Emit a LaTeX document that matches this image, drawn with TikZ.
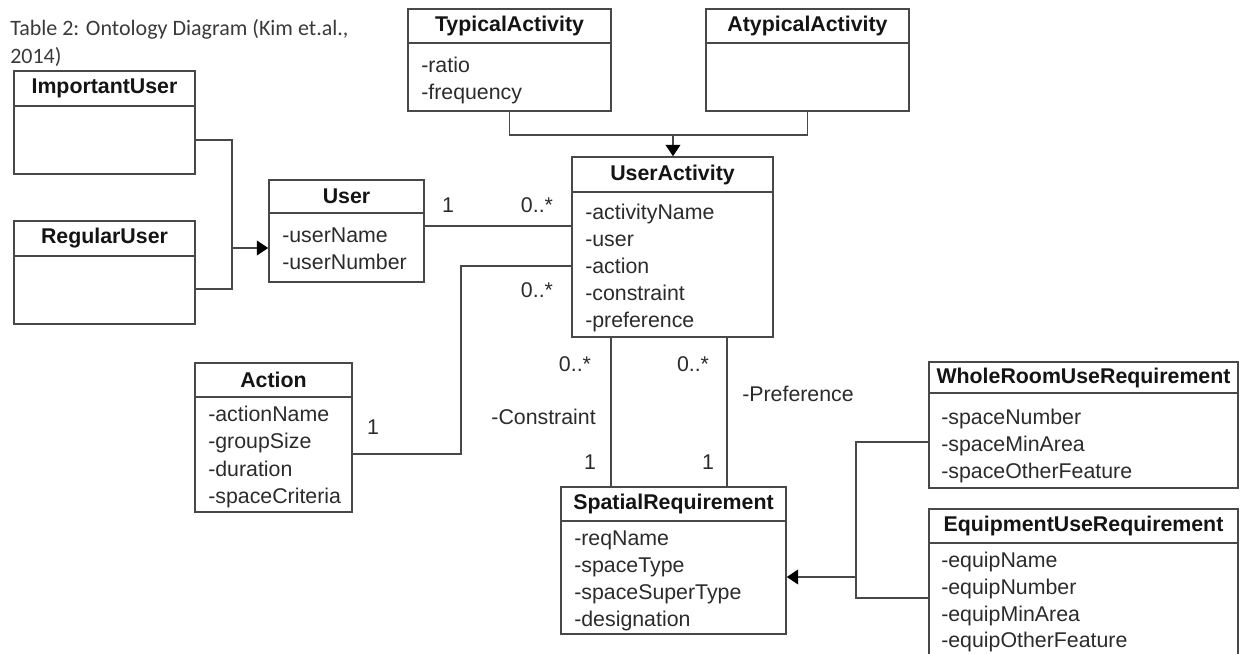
\documentclass[tikz,border=0pt]{standalone}
\usepackage{fontspec}
\setmainfont{Liberation Sans}
\newfontfamily\titlefont{Carlito}
\usetikzlibrary{arrows.meta,fit}
\definecolor{linec}{HTML}{484848}
\definecolor{namec}{HTML}{141414}
\definecolor{attrc}{HTML}{2B2B2B}
\definecolor{titlec}{HTML}{3A3A3A}
\tikzset{
  clsbox/.style={draw=linec, line width=1.15pt, inner sep=0pt},
  divline/.style={draw=linec, line width=1.15pt},
  clsname/.style={font=\fontsize{16}{19}\selectfont\bfseries, text=namec, inner sep=0pt},
  attr/.style={font=\fontsize{16}{19}\selectfont, text=attrc, anchor=west, inner sep=0pt, text height=11.5pt, text depth=0pt},
  mult/.style={font=\fontsize{16}{19}\selectfont, text=attrc, inner sep=0pt, text height=11.5pt, text depth=0pt},
  conn/.style={draw=linec, line width=1.15pt},
  gen/.style={conn, -{Triangle[length=8.5pt,width=11pt,color=black]}},
  titletext/.style={font=\titlefont\fontsize{16.5}{21}\selectfont, text=titlec, inner sep=0pt, anchor=base west},
}
% #1 name, #2 x1, #3 y1, #4 x2, #5 y2, #6 divider y, #7 title
\newcommand{\umlclass}[7]{%
  \node[clsbox, fit={(#2,#3) (#4,#5)}] (#1) {};
  \draw[divline] (#2,#6) -- (#4,#6);
  \node[clsname] (#1-t) at ({(#2+#4)/2},{(#3+#6)/2}) {#7};
}
% #1 name, #2 x, #3 first y, #4 step, #5 list
\newcommand{\umlattrs}[5]{%
  \foreach \a [count=\i from 0] in {#5}
    \node[attr] (#1-a\i) at (#2,{#3+\i*#4}) {\a};
}
\begin{document}
\begin{tikzpicture}[x=0.75pt,y=-0.75pt]
\useasboundingbox (0,0) rectangle (1241,653);
\clip (0,0) rectangle (1241,653);

% caption
\node[titletext] (cap1) at (10,35) {Table 2: Ontology Diagram (Kim et.al.,};
\node[titletext] (cap2) at (10,63) {2014)};

% classes
\umlclass{imp}{14}{71}{195}{174}{106}{ImportantUser}
\umlclass{reg}{14}{221}{195}{324}{256}{RegularUser}
\umlclass{user}{269}{180}{424}{282}{213}{User}
\umlattrs{user}{282}{235}{27}{-userName,-userNumber}
\umlclass{typ}{408}{9}{611}{111}{43}{TypicalActivity}
\umlattrs{typ}{421}{65}{27}{-ratio,-frequency}
\umlclass{atyp}{706}{9}{909}{111}{43}{AtypicalActivity}
\umlclass{ua}{572}{157}{773}{337}{192}{UserActivity}
\umlattrs{ua}{585}{212}{27}{-activityName,-user,-action,-constraint,-preference}
\umlclass{act}{195}{363}{352}{512}{397}{Action}
\umlattrs{act}{208}{414}{27.3}{-actionName,-groupSize,-duration,-spaceCriteria}
\umlclass{sp}{561}{487}{786}{634}{521}{SpatialRequirement}
\umlattrs{sp}{574}{538}{27}{-reqName,-spaceType,-spaceSuperType,-designation}
\umlclass{whole}{929}{362}{1238}{488}{393}{WholeRoomUseRequirement}
\umlattrs{whole}{941}{417}{27}{-spaceNumber,-spaceMinArea,-spaceOtherFeature}
\umlclass{equip}{929}{509}{1238}{690}{543}{EquipmentUseRequirement}
\umlattrs{equip}{941}{560}{26.7}{-equipName,-equipNumber,-equipMinArea,-equipOtherFeature}

% generalisation: users
\coordinate (u1) at (232,140);
\coordinate (u2) at (232,289);
\coordinate (uj) at (232,248);
\draw[conn] (u1 -| imp.east) -- (u1) -- (u2) -- (u2 -| reg.east);
\draw[gen] (uj) -- (uj -| user.west);

% generalisation: activities
\coordinate (tj) at (673,135);
\draw[conn] (typ.south) |- (tj) -| (atyp.south);
\draw[gen] (tj) -- (tj |- ua.north);

% association User - UserActivity
\coordinate (au) at (500,226);
\draw[conn] (au -| user.east) -- (au -| ua.west);
\node[mult] (m1) at (448,205) {1};
\node[mult] (m2) at (537,205) {0..*};

% association UserActivity - Action
\coordinate (ac1) at (461,266);
\coordinate (ac2) at (461,454);
\draw[conn] (ac1 -| ua.west) -- (ac1) -- (ac2) -- (ac2 -| act.east);
\node[mult] (m3) at (537,290) {0..*};
\node[mult] (m4) at (373,427) {1};

% associations UserActivity - SpatialRequirement
\coordinate (c1) at (611,400);
\coordinate (c2) at (727,400);
\draw[conn] (c1 |- ua.south) -- (c1 |- sp.north);
\draw[conn] (c2 |- ua.south) -- (c2 |- sp.north);
\node[mult] (m5) at (575,364) {0..*};
\node[mult] (m6) at (693,364) {0..*};
\node[mult] (m7) at (590,462) {1};
\node[mult] (m8) at (708,462) {1};
\node[mult, anchor=east] (lc) at (596,417) {-Constraint};
\node[mult, anchor=west] (lp) at (742,394) {-Preference};

% generalisation: requirements
\coordinate (r1) at (856,442);
\coordinate (r2) at (856,598);
\coordinate (rj) at (856,577);
\draw[conn] (r1 -| whole.west) -- (r1) -- (r2) -- (r2 -| equip.west);
\draw[gen] (rj) -- (rj -| sp.east);
\end{tikzpicture}
\end{document}
